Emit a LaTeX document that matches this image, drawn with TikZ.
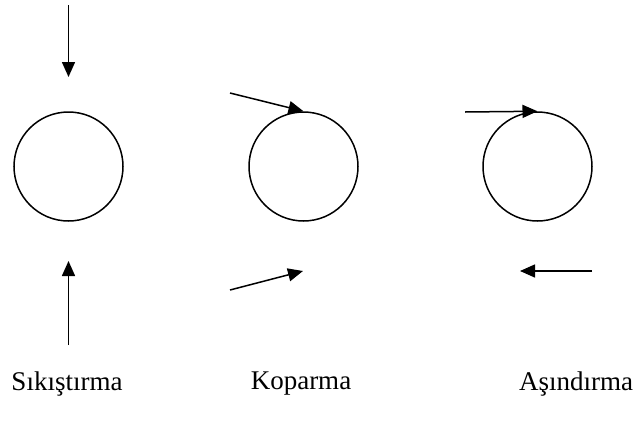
\documentclass[tikz,border=0pt]{standalone}
\usepackage{fontspec}
\setmainfont{Liberation Serif}
\usetikzlibrary{arrows.meta}
\tikzstyle{ball} = [
    circle,
    minimum size=109pt,
    inner sep=0pt,
    line width=1.5pt,
    draw=black
]
\tikzstyle{caption} = [
    font=\fontsize{27}{30}\selectfont,
    inner sep=0pt
]
\tikzstyle{arrow} = [line width=1.5pt,-{Triangle[length=15pt,width=13pt]}]

\begin{document}
\begin{tikzpicture}[x=1pt, y=-1pt]

\useasboundingbox (0,0) rectangle (639,434);

\node (ball1) [ball] at (68.5,166.5) {};
\node (ball2) [ball] at (303.5,166.5) {};
\node (ball3) [ball] at (537.5,166.5) {};

\coordinate (top1) at (68.5,5);
\coordinate (tip1) at (68.5,77);
\coordinate (low1) at (68.5,345);
\coordinate (tip2) at (68.5,261);
\coordinate (top2) at (230,93);
\coordinate (low2) at (230,290);
\coordinate (tip4) at (303,271);
\coordinate (top3) at (465,112);
\coordinate (low3) at (592,271);
\coordinate (tip6) at (520,271);

\node (sik) [caption] at (67,384) {Sıkıştırma};
\node (kop) [caption] at (301,384) {Koparma};
\node (asi) [caption] at (576,384) {Aşındırma};

\draw [arrow] (top1) -- (tip1);
\draw [arrow] (low1) -- (tip2);

\draw [arrow] (top2) -- (ball2.north);
\draw [arrow] (low2) -- (tip4);

\draw [arrow] (top3) -- (ball3.north);
\draw [arrow] (low3) -- (tip6);

\end{tikzpicture}
\end{document}
